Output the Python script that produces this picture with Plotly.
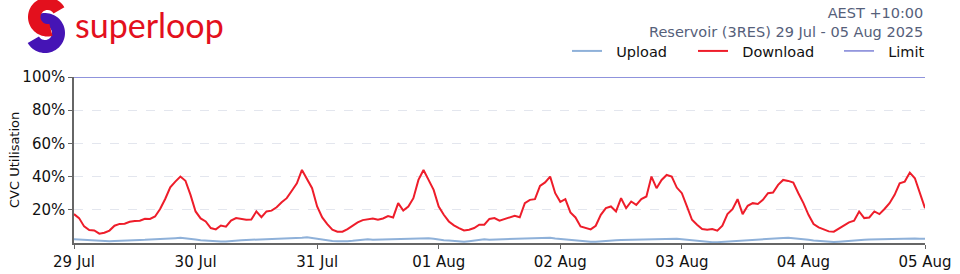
import math
import pandas as pd
import plotly.graph_objects as go

# ---------------- data (hourly, from 29 Jul 2025 00:00 AEST) ----------------
start_time = "2025-07-29 00:00"
download_pct = [
    17.4, 15.0, 10.0, 7.8, 7.6, 5.6, 6.2, 7.5, 10.4, 11.5, 11.6, 12.8,
    13.2, 13.4, 14.6, 14.5, 16.0, 20.5, 26.5, 33.5, 37.0, 40.0, 37.5, 29.0,
    19.0, 14.8, 13.0, 9.0, 8.2, 10.5, 9.8, 13.5, 15.0, 14.5, 14.0, 14.2,
    19.0, 15.5, 19.0, 19.5, 21.5, 24.5, 27.0, 31.5, 36.0, 44.0, 38.5, 33.0,
    22.0, 15.4, 11.4, 8.0, 6.8, 6.8, 8.4, 10.4, 12.4, 13.8, 14.4, 14.8,
    14.0, 14.8, 16.2, 15.4, 24.0, 19.5, 22.0, 27.0, 38.0, 44.0, 38.0, 32.0,
    22.0, 17.0, 13.0, 10.6, 9.0, 7.6, 8.0, 9.0, 11.0, 11.0, 14.5, 15.0,
    13.4, 14.4, 15.4, 16.4, 15.5, 24.0, 26.0, 26.4, 34.4, 36.5, 40.0, 30.0,
    24.8, 26.4, 18.4, 15.4, 10.0, 9.0, 8.2, 10.4, 17.0, 21.0, 22.0, 19.0,
    27.0, 21.0, 25.0, 23.0, 26.5, 28.0, 40.0, 33.0, 38.0, 41.0, 40.0, 33.4,
    30.0, 22.0, 14.0, 11.0, 8.4, 8.0, 8.4, 7.4, 10.4, 17.4, 20.4, 26.4,
    17.4, 22.4, 24.0, 23.5, 26.0, 30.0, 30.4, 35.0, 38.0, 37.4, 36.4, 30.0,
    24.0, 17.0, 11.4, 9.4, 8.0, 7.0, 6.8, 8.5, 10.5, 12.4, 13.4, 19.0,
    15.0, 15.4, 19.0, 17.4, 20.5, 24.0, 29.0, 36.0, 37.0, 42.4, 39.0, 30.0,
    21.0,
]
upload_pct = [
    2.2, 2.0, 1.8, 1.6, 1.4, 1.3, 1.2, 1.1, 1.2, 1.4, 1.6, 1.7,
    1.8, 1.8, 1.9, 2.0, 2.1, 2.2, 2.4, 2.6, 2.9, 3.1, 2.9, 2.5,
    2.1, 1.7, 1.4, 1.2, 1.0, 0.9, 0.9, 1.0, 1.3, 1.6, 1.8, 1.9,
    2.0, 2.0, 2.1, 2.2, 2.3, 2.4, 2.5, 2.7, 2.9, 3.2, 3.4, 3.0,
    2.4, 1.8, 1.4, 1.2, 1.1, 1.0, 1.1, 1.3, 1.6, 1.9, 2.2, 2.0,
    2.1, 2.0, 2.2, 2.3, 2.2, 2.4, 2.5, 2.6, 2.8, 3.1, 2.9, 2.5,
    2.0, 1.7, 1.5, 1.3, 1.0, 0.8, 1.1, 1.5, 1.8, 2.2, 2.0, 2.1,
    2.2, 2.1, 2.3, 2.2, 2.3, 2.4, 2.5, 2.7, 2.9, 3.2, 3.1, 2.7,
    2.4, 2.2, 1.8, 1.5, 1.2, 0.9, 0.7, 0.8, 1.1, 1.4, 1.6, 1.7,
    1.8, 1.9, 2.0, 2.0, 2.1, 2.2, 2.3, 2.5, 2.6, 2.7, 2.8, 2.6,
    2.3, 2.0, 1.6, 1.2, 0.9, 0.6, 0.5, 0.5, 0.7, 1.0, 1.3, 1.6,
    1.8, 2.0, 2.2, 2.1, 2.3, 2.4, 2.6, 2.8, 3.0, 3.1, 2.9, 2.6,
    2.3, 1.9, 1.5, 1.2, 0.9, 0.7, 0.6, 0.8, 1.1, 1.4, 1.7, 1.9,
    2.0, 2.1, 2.2, 2.2, 2.3, 2.4, 2.5, 2.6, 2.7, 2.8, 2.7, 2.6,
    2.5,
]
limit_pct = [100.0] * len(download_pct)
series_names = ["Upload", "Download", "Limit"]
ytick_vals = [20, 40, 60, 80, 100]
ytick_text = ["20%", "40%", "60%", "80%", "100%"]
x_range = ["2025-07-29 00:00", "2025-08-05 00:00"]
title_lines = ["AEST +10:00", "Reservoir (3RES) 29 Jul - 05 Aug 2025"]
y_title = "CVC Utilisation"
brand = "superloop"

times = pd.date_range(start_time, periods=len(download_pct), freq="h")

# ---------------- layout geometry ----------------
W, H = 960, 274
ML, MR, MT, MB = 74, 35, 77, 31
PW, PH = W - ML - MR, H - MT - MB
FONT = "DejaVu Sans"
NB = "\u00a0\u00a0"  # small gap between legend line and label

def px(xp):
    return (xp - ML) / PW

def py(yp):
    return (H - MB - yp) / PH

def ring_path(cx, cy, r_out, r_in, a0, a1, n=48):
    pts = []
    for i in range(n + 1):
        a = math.radians(a0 + (a1 - a0) * i / n)
        pts.append((cx + r_out * math.cos(a), cy - r_out * math.sin(a)))
    for i in range(n + 1):
        a = math.radians(a1 + (a0 - a1) * i / n)
        pts.append((cx + r_in * math.cos(a), cy - r_in * math.sin(a)))
    return "M " + " L ".join(f"{px(x):.5f},{py(y):.5f}" for x, y in pts) + " Z"

fig = go.Figure()
fig.add_trace(go.Scatter(x=times, y=upload_pct, mode="lines", name=NB + series_names[0],
                         line=dict(color="#8fb1d9", width=2), legend="legend"))
fig.add_trace(go.Scatter(x=times, y=download_pct, mode="lines", name=NB + series_names[1],
                         line=dict(color="#ee1d2a", width=2), legend="legend2"))
fig.add_trace(go.Scatter(x=times, y=limit_pct, mode="lines", name=NB + series_names[2],
                         line=dict(color="#6a6fd0", width=1.3), legend="legend3",
                         cliponaxis=False))

leg_common = dict(orientation="h", yanchor="middle", xanchor="left",
                  font=dict(family=FONT, size=14.5, color="#111111"),
                  bgcolor="rgba(0,0,0,0)", itemwidth=30, borderwidth=0)
fig.update_layout(
    legend=dict(x=px(567), y=py(51), **leg_common),
    legend2=dict(x=px(693), y=py(51), **leg_common),
    legend3=dict(x=px(839), y=py(51), **leg_common),
)

shapes = [
    dict(type="path", xref="paper", yref="paper", path=ring_path(45, 33, 20, 7, 110, -150),
         fillcolor="#4514b5", line=dict(width=0), layer="above"),
    dict(type="path", xref="paper", yref="paper", path=ring_path(47.5, 17, 19.5, 7, 30, 285),
         fillcolor="#e3101d", line=dict(width=0), layer="above"),
]

annotations = [
    dict(text=brand, xref="paper", yref="paper", x=px(73), y=py(24), xanchor="left",
         yanchor="middle", showarrow=False,
         font=dict(family="Lato", size=34, color="#e3101d")),
    dict(text="<br>".join(title_lines), xref="paper", yref="paper", x=1.0, y=py(22.5),
         xanchor="right", yanchor="middle", align="right", showarrow=False,
         font=dict(family=FONT, size=14.5, color="#55607a")),
    dict(text=y_title, xref="paper", yref="paper", x=px(14), y=py(160), xanchor="center",
         yanchor="middle", textangle=-90, showarrow=False,
         font=dict(family=FONT, size=13, color="#111111")),
]

fig.update_layout(
    width=W, height=H,
    margin=dict(l=ML, r=MR, t=MT, b=MB, pad=0, autoexpand=False),
    paper_bgcolor="white", plot_bgcolor="white",
    font=dict(family=FONT, color="#111111"),
    showlegend=True,
    shapes=shapes,
    annotations=annotations,
    xaxis=dict(range=x_range, type="date", tickformat="%d %b", dtick=86400000,
               tick0=x_range[0], showgrid=False, zeroline=False, automargin=False,
               showline=True, linecolor="#666666", linewidth=1.5,
               ticks="outside", ticklen=4, tickcolor="#666666", ticklabelstandoff=0,
               tickfont=dict(family=FONT, size=15, color="#111111")),
    yaxis=dict(range=[0, 100], tickvals=ytick_vals, ticktext=ytick_text,
               showgrid=True, gridcolor="#e3e6ee", griddash="dash", gridwidth=1,
               zeroline=False, showline=True, linecolor="#666666", linewidth=1.5,
               automargin=False,
               ticks="outside", ticklen=4, tickcolor="#666666", ticklabelstandoff=0,
               tickfont=dict(family=FONT, size=15, color="#111111")),
)

fig.write_html("out.html")
